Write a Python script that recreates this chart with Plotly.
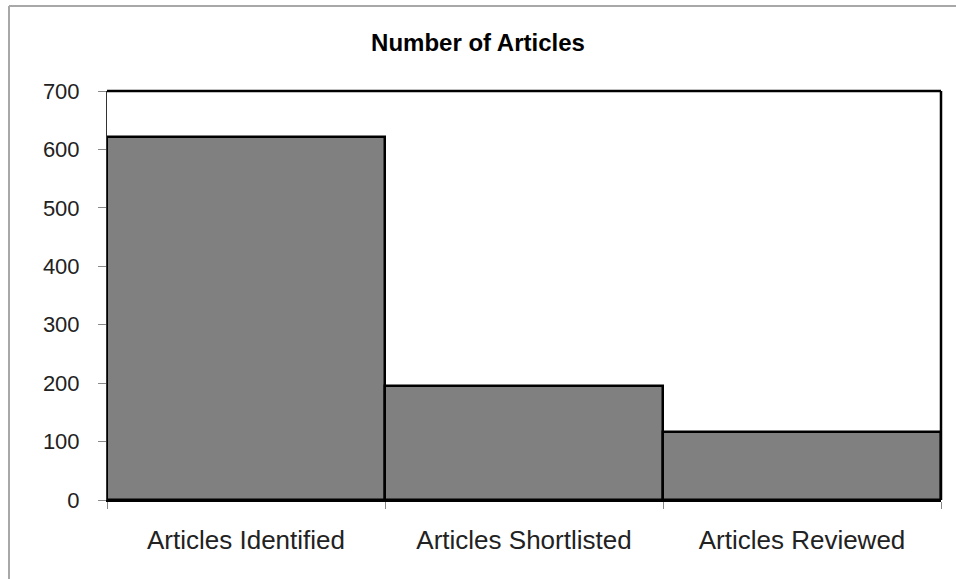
import plotly.graph_objects as go

categories = ["Articles Identified", "Articles Shortlisted", "Articles Reviewed"]
counts = [621, 195, 117]
y_ticks = [0, 100, 200, 300, 400, 500, 600, 700]

W, H = 956, 579
L, R, T, B = 107, 15, 91, 79
pw, ph = W - L - R, H - T - B

fig = go.Figure(go.Bar(
    x=categories, y=counts,
    marker=dict(color="#808080", line=dict(color="black", width=2.5)),
))

def px_x(p):
    return (p - L) / pw

def px_y(p):
    return (H - B - p) / ph

fig.update_layout(
    width=W, height=H,
    margin=dict(l=L, r=R, t=T, b=B),
    paper_bgcolor="white", plot_bgcolor="white",
    bargap=0,
    showlegend=False,
    font=dict(family="Liberation Sans, Arial, sans-serif", color="#222222"),
    title=dict(text="<b>Number of Articles</b>", x=0.5, xanchor="center",
               y=1 - 43 / H, yanchor="middle",
               font=dict(size=24, color="black")),
    xaxis=dict(showgrid=False, tickson="boundaries", ticks="outside", ticklen=7,
               tickcolor="#888888", showline=True, linecolor="black", linewidth=2,
               tickfont=dict(size=26), ticklabelstandoff=16),
    yaxis=dict(range=[0, 700], tickvals=y_ticks, showgrid=False, ticks="outside",
               ticklen=8, tickcolor="#888888", showline=True, linecolor="#333333",
               linewidth=1, tickfont=dict(size=22), ticklabelstandoff=14,
               zeroline=False),
    shapes=[
        dict(type="line", xref="paper", yref="paper", x0=0, x1=1, y0=1, y1=1,
             line=dict(color="black", width=2.5)),
        dict(type="line", xref="paper", yref="paper", x0=1, x1=1, y0=0, y1=1,
             line=dict(color="black", width=2.5)),
        dict(type="line", xref="paper", yref="paper", x0=px_x(9), x1=px_x(W + 5),
             y0=px_y(6), y1=px_y(6), line=dict(color="#a8a8a8", width=2)),
        dict(type="line", xref="paper", yref="paper", x0=px_x(9), x1=px_x(9),
             y0=px_y(6), y1=px_y(H + 5), line=dict(color="#a8a8a8", width=2)),
    ],
)

fig.write_html("out.html")
